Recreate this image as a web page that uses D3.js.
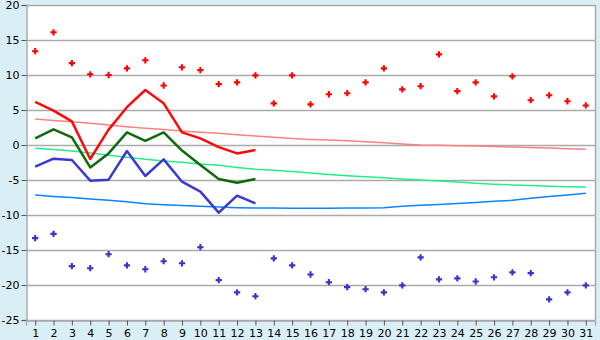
<!DOCTYPE html>
<html><head><meta charset="utf-8">
<script src="https://cdn.jsdelivr.net/npm/d3@7"></script>
<style>
html,body{margin:0;padding:0;background:#d9eef5;}
svg{display:block;}
text{font-family:"DejaVu Sans",Verdana,sans-serif;font-size:11px;fill:#000;}
</style></head>
<body>
<svg id="c" width="600" height="340"></svg>
<script>
const days = d3.range(1, 32);
const yTicks = [-25, -20, -15, -10, -5, 0, 5, 10, 15, 20];

const recordMax = [13.4,16.1,11.7,10.1,10.0,10.95,12.1,8.5,11.1,10.7,8.7,8.95,9.95,5.95,9.95,5.8,7.25,7.4,8.95,10.95,7.95,8.4,12.95,7.7,8.95,6.95,9.8,6.4,7.1,6.25,5.65];
const recordMin = [-13.3,-12.7,-17.3,-17.6,-15.6,-17.2,-17.75,-16.6,-16.9,-14.6,-19.3,-21.05,-21.6,-16.2,-17.2,-18.5,-19.6,-20.3,-20.6,-21.05,-20.05,-16.05,-19.2,-19.05,-19.5,-18.9,-18.2,-18.3,-22.05,-21.05,-20.05];

const dailyMax = [6.15,4.9,3.38,-2.0,2.2,5.4,7.86,5.95,1.8,0.95,-0.3,-1.2,-0.7];
const dailyMean = [0.95,2.24,1.1,-3.2,-1.2,1.8,0.6,1.8,-0.8,-2.86,-4.86,-5.38,-4.86];
const dailyMin = [-3.1,-1.95,-2.14,-5.1,-4.95,-0.86,-4.43,-2.05,-5.24,-6.67,-9.67,-7.24,-8.33];

const normalMax = [3.7,3.5,3.33,3.1,2.85,2.62,2.4,2.2,2.0,1.83,1.67,1.48,1.29,1.1,0.92,0.8,0.7,0.6,0.47,0.33,0.15,0.0,-0.05,-0.1,-0.14,-0.22,-0.3,-0.37,-0.43,-0.52,-0.6];
const normalMean = [-0.45,-0.65,-0.86,-1.15,-1.45,-1.76,-2.05,-2.27,-2.48,-2.7,-2.9,-3.2,-3.45,-3.6,-3.8,-4.0,-4.2,-4.38,-4.52,-4.67,-4.85,-5.0,-5.15,-5.3,-5.48,-5.6,-5.7,-5.8,-5.9,-5.95,-6.0];
const normalMin = [-7.15,-7.35,-7.5,-7.7,-7.9,-8.1,-8.4,-8.55,-8.65,-8.75,-8.85,-8.95,-9.0,-9.0,-9.02,-9.02,-9.02,-9.0,-9.0,-8.95,-8.75,-8.6,-8.5,-8.35,-8.2,-8.05,-7.9,-7.6,-7.35,-7.15,-6.9];

const svg = d3.select("#c");
const L = 26, R = 595, T = 5, B = 320;
const x = d3.scalePoint().domain(days).range([L, R]).padding(0.5);
const y = d3.scaleLinear().domain([-25, 20]).range([B, T]);

svg.append("rect").attr("x", L).attr("y", T).attr("width", R - L).attr("height", B - T).attr("fill", "#fff");

// gridlines
svg.append("g").selectAll("line").data(yTicks).join("line")
  .attr("x1", L).attr("x2", R)
  .attr("y1", d => Math.round(y(d)) + 0.5).attr("y2", d => Math.round(y(d)) + 0.5)
  .attr("stroke", "#aaaaaa").attr("stroke-width", 1.5);
svg.append("line").attr("x1", R + 0.5).attr("x2", R + 0.5).attr("y1", T).attr("y2", B)
  .attr("stroke", "#aaaaaa").attr("stroke-width", 1.5);

// axes
const yAxis = svg.append("g").attr("transform", `translate(${L + 0.5},0)`)
  .call(d3.axisLeft(y).tickValues(yTicks).tickSize(5).tickPadding(2).tickFormat(d3.format("d")));
const xAxis = svg.append("g").attr("transform", `translate(0,${B + 0.5})`)
  .call(d3.axisBottom(x).tickSize(5).tickPadding(4));
[yAxis, xAxis].forEach(a => {
  a.select(".domain").attr("stroke", "#aaaaaa").attr("stroke-width", 1.5);
  a.selectAll(".tick line").attr("stroke", "#555").attr("stroke-width", 1);
  a.selectAll("text").attr("font-family", "DejaVu Sans").attr("font-size", 11).attr("fill", "#111");
});
yAxis.selectAll(".tick text").text(d => d < 0 ? "\u2212" + Math.abs(d) : d).text(d => String(d).replace("-", "-"));

const line = d3.line().x((d, i) => x(days[i])).y(d => y(d));

function drawLine(data, color, w) {
  svg.append("path").datum(data).attr("d", line)
    .attr("fill", "none").attr("stroke", color).attr("stroke-width", w)
    .attr("stroke-linejoin", "round");
}
drawLine(normalMax, "#ff8080", 1.5);
drawLine(normalMean, "#22ee88", 1.5);
drawLine(normalMin, "#0a84ff", 1.5);
drawLine(dailyMin, "#3a3ad0", 2.5);
drawLine(dailyMean, "#0d6b0d", 2.5);
drawLine(dailyMax, "#ff0a0a", 2.5);

const sym = d3.symbol().type(d3.symbolCross).size(22);
svg.append("g").selectAll("path").data(recordMax).join("path")
  .attr("d", sym).attr("transform", (d, i) => `translate(${x(days[i])},${y(d)})`).attr("fill", "#ff0000");
svg.append("g").selectAll("path").data(recordMin).join("path")
  .attr("d", sym).attr("transform", (d, i) => `translate(${x(days[i])},${y(d)})`).attr("fill", "#3535cc");
</script>
</body></html>
